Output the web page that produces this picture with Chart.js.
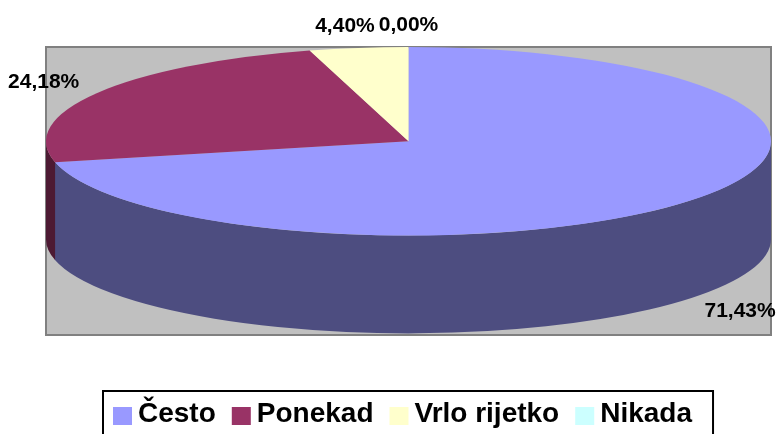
<!DOCTYPE html>
<html>
<head>
<meta charset="utf-8">
<script src="https://cdn.jsdelivr.net/npm/chart.js@4/dist/chart.umd.min.js"></script>
<style>
html, body { margin: 0; padding: 0; background: #fff; }
</style>
</head>
<body>
<canvas id="myChart" width="781" height="434"></canvas>
<script>
var categories = ['Često', 'Ponekad', 'Vrlo rijetko', 'Nikada'];
var counts = [65, 22, 4, 0];
var topColors = ['#9999FF', '#993366', '#FFFFCC', '#CCFFFF'];
var sideColors = ['#4D4D80', '#4D1A33', '#808066', '#668080'];

var labelFont = 'bold 21px "Liberation Sans", Arial, sans-serif';
var legendFont = 'bold 28px "Liberation Sans", Arial, sans-serif';

// ellipse used for the tilted pie, taken from the chart area
function pieGeom(chart) {
  var a = chart.chartArea;
  var rx = a.width / 2;
  var ry = rx * 0.26;
  return { cx: (a.left + a.right) / 2, cy: a.top + ry, rx: rx, ry: ry, depth: rx * 0.27 };
}

var pie3d = {
  id: 'pie3d',
  beforeDatasetsDraw: function(chart) {
    var ctx = chart.ctx, a = chart.chartArea, g = pieGeom(chart);
    var arcs = chart.getDatasetMeta(0).data;

    ctx.save();
    ctx.fillStyle = '#C0C0C0';
    ctx.fillRect(a.left, a.top, a.width, a.height);
    ctx.lineWidth = 2;
    ctx.strokeStyle = '#808080';
    ctx.strokeRect(a.left, a.top, a.width, a.height);

    // front walls of the slices
    arcs.forEach(function(arc, i) {
      var s = Math.max(arc.startAngle, 0);
      var e = Math.min(arc.endAngle + 0.004, Math.PI);
      if (e <= s) return;
      ctx.beginPath();
      ctx.ellipse(g.cx, g.cy, g.rx, g.ry, 0, s, e);
      ctx.ellipse(g.cx, g.cy + g.depth, g.rx, g.ry, 0, e, s, true);
      ctx.closePath();
      ctx.fillStyle = sideColors[i];
      ctx.fill();
    });
    ctx.restore();

    // squash the round pie into the top face
    var p = arcs[0];
    ctx.save();
    ctx.translate(g.cx, g.cy);
    ctx.scale(g.rx / p.outerRadius, g.ry / p.outerRadius);
    ctx.translate(-p.x, -p.y);
  },
  afterDatasetsDraw: function(chart) {
    chart.ctx.restore();
  },
  afterDraw: function(chart) {
    var ctx = chart.ctx, a = chart.chartArea, g = pieGeom(chart);
    var arcs = chart.getDatasetMeta(0).data;
    var total = counts.reduce(function(s, v) { return s + v; }, 0);

    // percentage labels
    ctx.save();
    ctx.font = labelFont;
    ctx.fillStyle = '#000';
    ctx.textAlign = 'center';
    ctx.textBaseline = 'middle';
    var placed = [];
    for (var i = arcs.length - 1; i >= 0; i--) {
      var arc = arcs[i];
      var m = (arc.startAngle + arc.endAngle) / 2;
      var c = Math.cos(m), s = Math.sin(m);
      var x = g.cx + 1.17 * g.rx * c;
      var y = g.cy + 1.23 * g.ry * s + (s > 0 ? g.depth : 0);
      var text = (counts[i] / total * 100).toFixed(2).replace('.', ',') + '%';
      var w = ctx.measureText(text).width;
      placed.forEach(function(b) {
        if (Math.abs(y - b.y) < 18 && x - w / 2 < b.x + b.w / 2 + 4 && x + w / 2 > b.x - b.w / 2 - 4) {
          x = x < b.x ? b.x - b.w / 2 - 4 - w / 2 : b.x + b.w / 2 + 4 + w / 2;
        }
      });
      x = Math.max(w / 2 + 4, Math.min(chart.width - w / 2 - 2, x));
      placed.push({ x: x, y: y, w: w });
      ctx.fillText(text, x, y);
    }

    // legend box
    ctx.font = legendFont;
    var widths = categories.map(function(t) { return ctx.measureText(t).width; });
    var itemsW = widths.reduce(function(s, w) { return s + 25 + w; }, 0) + 16 * (categories.length - 1);
    var boxW = itemsW + 31;
    var left = Math.round(g.cx - boxW / 2);
    var top = a.bottom + 56;
    ctx.lineWidth = 2;
    ctx.strokeStyle = '#000';
    ctx.strokeRect(left, top, boxW, 60);
    ctx.textAlign = 'left';
    ctx.textBaseline = 'alphabetic';
    var lx = left + 10;
    categories.forEach(function(t, i) {
      ctx.fillStyle = topColors[i];
      ctx.fillRect(lx, top + 16, 19, 18);
      ctx.fillStyle = '#000';
      ctx.fillText(t, lx + 25, top + 31);
      lx += 25 + widths[i] + 16;
    });
    ctx.restore();
  }
};

var ctx = document.getElementById('myChart').getContext('2d');
var myChart = new Chart(ctx, {
  type: 'pie',
  data: {
    labels: categories,
    datasets: [{
      data: counts,
      backgroundColor: topColors,
      borderWidth: 0,
      clip: false
    }]
  },
  options: {
    responsive: false,
    animation: false,
    devicePixelRatio: 1,
    layout: { padding: { left: 46, right: 10, top: 47, bottom: 99 } },
    plugins: {
      legend: { display: false },
      tooltip: { enabled: false }
    }
  },
  plugins: [pie3d]
});
</script>
</body>
</html>
